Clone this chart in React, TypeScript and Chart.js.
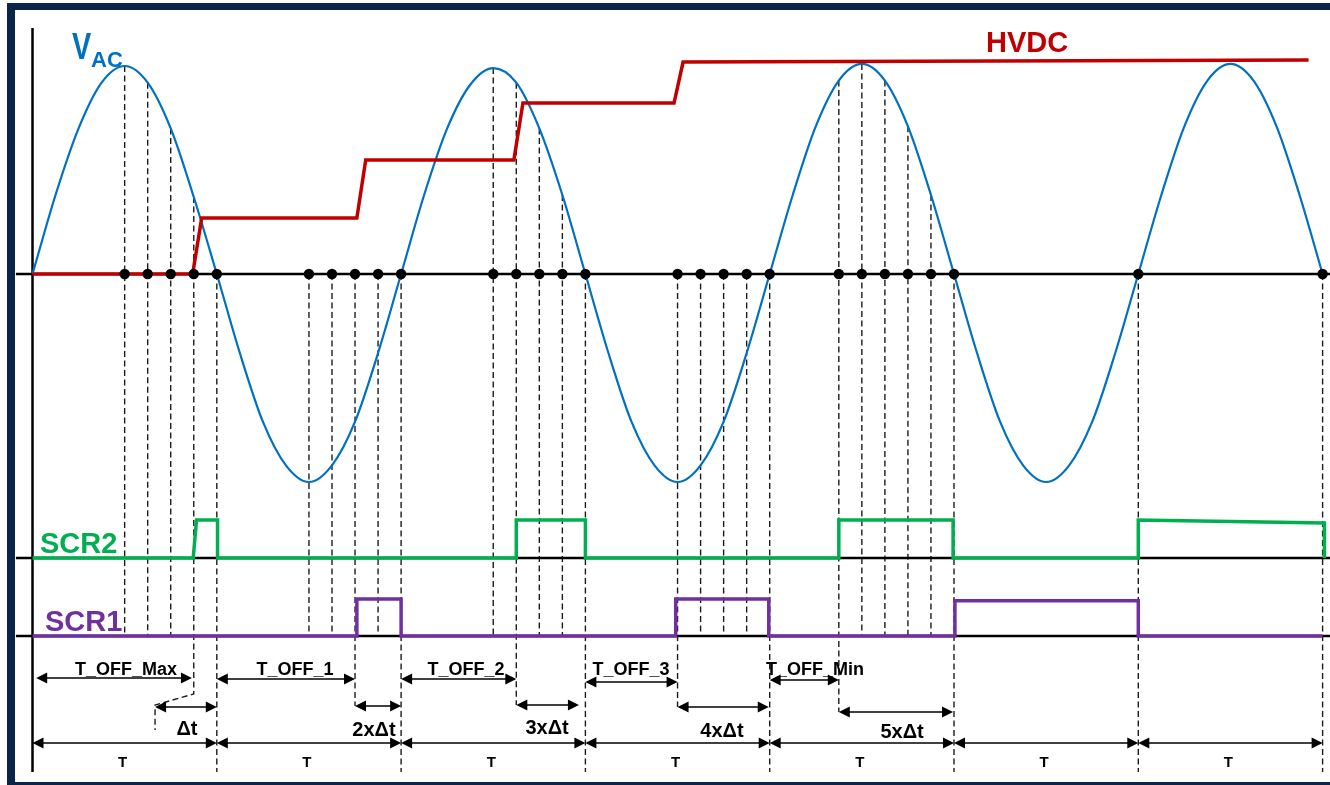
import React, { useEffect, useRef } from "react";
import { Chart, registerables } from "chart.js";

Chart.register(...registerables);

// ---------------- data (time in units of one half-period T) ----------------
const vacTime = [
  0, 0.125, 0.25, 0.375, 0.5, 0.625, 0.75, 0.875,
  1, 1.125, 1.25, 1.375, 1.5, 1.625, 1.75, 1.875,
  2, 2.125, 2.25, 2.375, 2.5, 2.625, 2.75, 2.875,
  3, 3.125, 3.25, 3.375, 3.5, 3.625, 3.75, 3.875,
  4, 4.125, 4.25, 4.375, 4.5, 4.625, 4.75, 4.875,
  5, 5.125, 5.25, 5.375, 5.5, 5.625, 5.75, 5.875,
  6, 6.125, 6.25, 6.375, 6.5, 6.625, 6.75, 6.875,
  7,
];
const vacValue = [
  0, 0.38, 0.7, 0.92, 1.0, 0.92, 0.7, 0.37,
  0, -0.38, -0.71, -0.92, -1.0, -0.92, -0.71, -0.38,
  0, 0.38, 0.7, 0.91, 0.99, 0.92, 0.7, 0.38,
  0, -0.38, -0.71, -0.92, -1.0, -0.92, -0.71, -0.38,
  0, 0.38, 0.71, 0.93, 1.01, 0.93, 0.71, 0.38,
  0, -0.38, -0.71, -0.92, -1.0, -0.92, -0.71, -0.38,
  0, 0.38, 0.71, 0.93, 1.01, 0.93, 0.71, 0.38,
  0,
];

const hvdcTime = [0, 0.869, 0.918, 1.76, 1.808, 2.612, 2.661, 3.481, 3.53, 6.924];
const hvdcValue = [0, 0, 0.269, 0.269, 0.548, 0.548, 0.822, 0.822, 1.019, 1.029];

const scr2Time = [0, 0.872, 0.89, 1.004, 1.004, 2.625, 2.625, 3.0, 3.0, 4.375, 4.375, 4.995, 4.995, 6.0, 6.0, 7.01, 7.01];
const scr2Value = [0, 0, 1, 1, 0, 0, 1, 1, 0, 0, 1, 1, 0, 0, 1, 0.92, 0];

const scr1Time = [0, 1.76, 1.76, 2.0, 2.0, 3.49, 3.49, 3.995, 3.995, 5.005, 5.005, 6.0, 6.0, 7.0];
const scr1Value = [0, 0, 1, 1, 0, 0, 1, 1, 0, 0, 0.95, 0.95, 0, 0];

const markerTimes = [
  0.5, 0.625, 0.75, 0.875, 1,
  1.5, 1.625, 1.75, 1.875, 2,
  2.5, 2.625, 2.75, 2.875, 3,
  3.5, 3.625, 3.75, 3.875, 4,
  4.375, 4.5, 4.625, 4.75, 4.875, 5,
  6, 7,
];
const markerDrop = [
  "scr1", "scr1", "scr1", "bracket", "full",
  "scr1", "scr1", "dt", "scr1", "full",
  "scr1", "dt", "scr1", "scr1", "full",
  "dt", "scr1", "scr1", "scr1", "full",
  "dt", "scr1", "scr1", "scr1", "scr1", "full",
  "full", "full",
];

const periodBounds = [0, 1, 2, 3, 4, 5, 6, 7];
const periodLabel = "T";

const offStart = [0.02, 1, 2, 3, 4];
const offEnd = [0.865, 1.75, 2.625, 3.5, 4.375];
const offLabels = ["T_OFF_Max", "T_OFF_1", "T_OFF_2", "T_OFF_3", "T_OFF_Min"];
const offLabelAt = [0.507, 1.424, 2.352, 3.248, 4.246];

const dtStart = [0.665, 1.75, 2.625, 3.5, 4.375];
const dtEnd = [1.0, 2.0, 2.965, 3.995, 4.995];
const dtLabels = ["\u0394t", "2x\u0394t", "3x\u0394t", "4x\u0394t", "5x\u0394t"];
const dtLabelAt = [0.838, 1.853, 2.792, 3.741, 4.718];

// ---------------- layout ----------------
const W = 1330;
const H = 785;
const X0_PX = 32.5;
const X_UNIT_PX = 184.3;
const VAC_ZERO_PX = 274;
const VAC_UNIT_PX = 208;
const SCR2_ZERO_PX = 558;
const SCR2_UNIT_PX = 38;
const SCR1_ZERO_PX = 636;
const SCR1_UNIT_PX = 37;
const LINE_START_T = -0.09;
const LINE_END_T = 7.04;

const T_ROW_Y = 743;
const T_LABEL_Y = 767;
const OFF_ROW_Y = [678, 679, 679, 682, 680];
const OFF_LABEL_Y = 675;
const DT_ROW_Y = [707, 706, 705, 707, 712];
const DT_LABEL_Y = [735, 736, 734, 737, 738];
const FULL_DROP_Y = 772;
const AXIS_TOP_Y = 28;

const FONT = "'Liberation Sans', Arial, Helvetica, sans-serif";
const BLUE = "#0070c0";
const RED = "#c00000";
const GREEN = "#00b050";
const PURPLE = "#7030a0";
const FRAME = "#0a2548";

const HEAD_L = 11;
const HEAD_W = 5.5;

function yRange(zeroPx: number, unitPx: number) {
  return { min: (zeroPx - H) / unitPx, max: zeroPx / unitPx };
}

function pts(ts: number[], vs: number[]) {
  return ts.map((t, i) => ({ x: t, y: vs[i] }));
}

function vacAt(t: number) {
  const i = vacTime.indexOf(t);
  return i >= 0 ? vacValue[i] : 0;
}

function head(ctx: CanvasRenderingContext2D, tipX: number, y: number, dir: number) {
  ctx.beginPath();
  ctx.moveTo(tipX, y);
  ctx.lineTo(tipX - dir * HEAD_L, y - HEAD_W);
  ctx.lineTo(tipX - dir * HEAD_L, y + HEAD_W);
  ctx.closePath();
  ctx.fill();
}

function dblArrow(ctx: CanvasRenderingContext2D, x1: number, x2: number, y: number) {
  ctx.beginPath();
  ctx.moveTo(x1 + 3, y);
  ctx.lineTo(x2 - 3, y);
  ctx.stroke();
  head(ctx, x1, y, -1);
  head(ctx, x2, y, 1);
}

function seg(ctx: CanvasRenderingContext2D, x1: number, y1: number, x2: number, y2: number) {
  ctx.beginPath();
  ctx.moveTo(x1, y1);
  ctx.lineTo(x2, y2);
  ctx.stroke();
}

const diagramPlugin = {
  id: "diagram",
  beforeDraw(chart: any) {
    const ctx: CanvasRenderingContext2D = chart.ctx;
    ctx.save();
    ctx.fillStyle = "#ffffff";
    ctx.fillRect(0, 0, W, H);
    ctx.fillStyle = FRAME;
    ctx.fillRect(7, 3, W - 7, 7);
    ctx.fillRect(7, 3, 8, H - 3);
    ctx.fillRect(7, 782, W - 7, 3);
    ctx.restore();
  },
  beforeDatasetsDraw(chart: any) {
    const ctx: CanvasRenderingContext2D = chart.ctx;
    const x = chart.scales.x;
    const yv = chart.scales.y;
    const y1 = chart.scales.y1;
    ctx.save();
    // vertical axis
    ctx.strokeStyle = "#000";
    ctx.lineWidth = 2.5;
    seg(ctx, x.getPixelForValue(0), AXIS_TOP_Y, x.getPixelForValue(0), FULL_DROP_Y);

    // dashed projection lines
    ctx.strokeStyle = "#1c1c1c";
    ctx.lineWidth = 1.4;
    ctx.setLineDash([6, 3.5]);
    markerTimes.forEach((t, i) => {
      const px = x.getPixelForValue(t);
      const v = vacAt(t);
      const top = yv.getPixelForValue(v > 0 ? v : 0);
      const kind = markerDrop[i];
      if (kind === "scr1") {
        seg(ctx, px, top, px, y1.getPixelForValue(0));
      } else if (kind === "full") {
        seg(ctx, px, top, px, FULL_DROP_Y);
      } else if (kind === "dt") {
        const k = dtStart.indexOf(t);
        seg(ctx, px, top, px, DT_ROW_Y[k >= 0 ? k : 0]);
      } else if (kind === "bracket") {
        const bx = x.getPixelForValue(dtStart[0]);
        ctx.beginPath();
        ctx.moveTo(px, top);
        ctx.lineTo(px, 694);
        ctx.lineTo(bx, DT_ROW_Y[0] - 2);
        ctx.lineTo(bx, 730);
        ctx.stroke();
      }
    });
    ctx.restore();
  },
  afterDatasetsDraw(chart: any) {
    const ctx: CanvasRenderingContext2D = chart.ctx;
    const x = chart.scales.x;
    ctx.save();
    ctx.strokeStyle = "#000";
    ctx.fillStyle = "#000";
    ctx.lineWidth = 1.6;
    ctx.setLineDash([]);

    // period arrows
    ctx.font = `bold 15px ${FONT}`;
    ctx.textAlign = "center";
    ctx.textBaseline = "alphabetic";
    for (let i = 0; i < periodBounds.length - 1; i++) {
      const a = x.getPixelForValue(periodBounds[i]);
      const b = x.getPixelForValue(periodBounds[i + 1]);
      dblArrow(ctx, a, b, T_ROW_Y);
      ctx.fillText(periodLabel, (a + b) / 2 - 2, T_LABEL_Y);
    }

    // T_OFF arrows
    ctx.font = `bold 18px ${FONT}`;
    offStart.forEach((s, i) => {
      dblArrow(ctx, x.getPixelForValue(s), x.getPixelForValue(offEnd[i]), OFF_ROW_Y[i]);
      ctx.fillText(offLabels[i], x.getPixelForValue(offLabelAt[i]), OFF_LABEL_Y);
    });

    // delta-t arrows
    ctx.font = `bold 20px ${FONT}`;
    dtStart.forEach((s, i) => {
      dblArrow(ctx, x.getPixelForValue(s), x.getPixelForValue(dtEnd[i]), DT_ROW_Y[i]);
      ctx.fillText(dtLabels[i], x.getPixelForValue(dtLabelAt[i]), DT_LABEL_Y[i]);
    });

    // series names
    ctx.textAlign = "left";
    ctx.fillStyle = BLUE;
    ctx.font = `bold 36px ${FONT}`;
    ctx.save();
    ctx.translate(72, 59);
    ctx.scale(0.8, 1);
    ctx.fillText("V", 0, 0);
    ctx.restore();
    ctx.font = `bold 22px ${FONT}`;
    ctx.fillText("AC", 91, 67);

    ctx.fillStyle = RED;
    ctx.font = `bold 29px ${FONT}`;
    ctx.fillText("HVDC", 986, 52);

    ctx.fillStyle = GREEN;
    ctx.fillText("SCR2", 40, 553);
    ctx.fillStyle = PURPLE;
    ctx.fillText("SCR1", 45, 631);
    ctx.restore();
  },
};

export default function App() {
  const ref = useRef<HTMLCanvasElement>(null);

  useEffect(() => {
    if (!ref.current) return;
    const vr = yRange(VAC_ZERO_PX, VAC_UNIT_PX);
    const s2 = yRange(SCR2_ZERO_PX, SCR2_UNIT_PX);
    const s1 = yRange(SCR1_ZERO_PX, SCR1_UNIT_PX);
    const lineDefaults = { pointRadius: 0, fill: false, tension: 0 };
    const chart = new Chart(ref.current, {
      type: "line",
      data: {
        datasets: [
          {
            label: "dots",
            data: markerTimes.map((t) => ({ x: t, y: 0 })),
            showLine: false,
            pointRadius: 5.2,
            pointBackgroundColor: "#000",
            pointBorderWidth: 0,
            borderColor: "#000",
            yAxisID: "y",
            order: 0,
          },
          {
            ...lineDefaults,
            label: "HVDC",
            data: pts(hvdcTime, hvdcValue),
            borderColor: RED,
            borderWidth: 3.5,
            borderJoinStyle: "miter",
            yAxisID: "y",
            order: 1,
          },
          {
            ...lineDefaults,
            label: "VAC",
            data: pts(vacTime, vacValue),
            borderColor: BLUE,
            borderWidth: 2.2,
            cubicInterpolationMode: "monotone",
            yAxisID: "y",
            order: 2,
          },
          {
            ...lineDefaults,
            label: "SCR2",
            data: pts(scr2Time, scr2Value),
            borderColor: GREEN,
            borderWidth: 3.5,
            borderJoinStyle: "miter",
            yAxisID: "y2",
            order: 3,
          },
          {
            ...lineDefaults,
            label: "SCR1",
            data: pts(scr1Time, scr1Value),
            borderColor: PURPLE,
            borderWidth: 3.5,
            borderJoinStyle: "miter",
            yAxisID: "y1",
            order: 4,
          },
          {
            ...lineDefaults,
            label: "zero",
            data: [{ x: LINE_START_T, y: 0 }, { x: LINE_END_T, y: 0 }],
            borderColor: "#000",
            borderWidth: 2.5,
            yAxisID: "y",
            order: 10,
          },
          {
            ...lineDefaults,
            label: "scr2 base",
            data: [{ x: LINE_START_T, y: 0 }, { x: LINE_END_T, y: 0 }],
            borderColor: "#000",
            borderWidth: 2.3,
            yAxisID: "y2",
            order: 11,
          },
          {
            ...lineDefaults,
            label: "scr1 base",
            data: [{ x: LINE_START_T, y: 0 }, { x: LINE_END_T, y: 0 }],
            borderColor: "#000",
            borderWidth: 2.3,
            yAxisID: "y1",
            order: 12,
          },
        ],
      },
      options: {
        animation: false,
        responsive: false,
        maintainAspectRatio: false,
        devicePixelRatio: 1,
        layout: { padding: 0, autoPadding: false },
        events: [],
        plugins: {
          legend: { display: false },
          tooltip: { enabled: false },
          title: { display: false },
        },
        scales: {
          x: {
            type: "linear",
            display: false,
            min: -X0_PX / X_UNIT_PX,
            max: (W - X0_PX) / X_UNIT_PX,
          },
          y: { type: "linear", display: false, min: vr.min, max: vr.max },
          y2: { type: "linear", display: false, min: s2.min, max: s2.max },
          y1: { type: "linear", display: false, min: s1.min, max: s1.max },
        },
      },
      plugins: [diagramPlugin],
    } as any);
    return () => chart.destroy();
  }, []);

  return (
    <div style={{ position: "fixed", left: 0, top: 0, width: W, height: H, background: "#fff" }}>
      <canvas ref={ref} width={W} height={H} style={{ display: "block", width: W, height: H }} />
    </div>
  );
}
